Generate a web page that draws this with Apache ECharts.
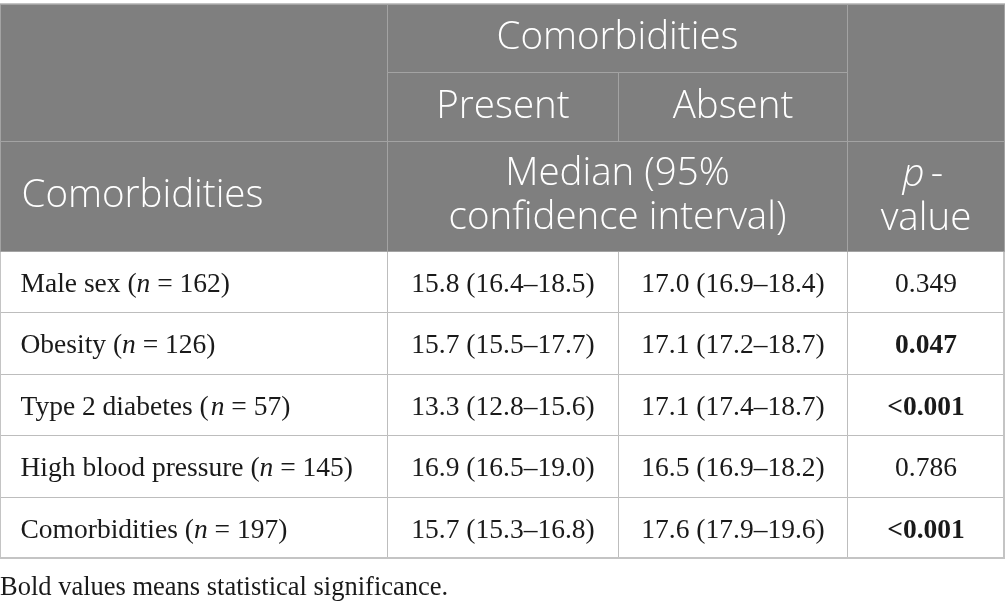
<!DOCTYPE html>
<html>
<head>
<meta charset="utf-8">
<script src="https://cdn.jsdelivr.net/npm/echarts@6/dist/echarts.min.js"></script>
<style>
  html, body { margin: 0; padding: 0; background: #fff; }
  #main { width: 1005px; height: 610px; }
</style>
</head>
<body>
<div id="main"></div>
<script>
// table values
var rowNames = ['Male sex', 'Obesity', 'Type 2 diabetes', 'High blood pressure', 'Comorbidities'];
var rowN = [162, 126, 57, 145, 197];
var presentMedian = [15.8, 15.7, 13.3, 16.9, 15.7];
var presentLow = [16.4, 15.5, 12.8, 16.5, 15.3];
var presentHigh = [18.5, 17.7, 15.6, 19.0, 16.8];
var absentMedian = [17.0, 17.1, 17.1, 16.5, 17.6];
var absentLow = [16.9, 17.2, 17.4, 16.9, 17.9];
var absentHigh = [18.4, 18.7, 18.7, 18.2, 19.6];
var pValues = ['0.349', '0.047', '<0.001', '0.786', '<0.001'];
var significant = [false, true, true, false, true];

var chart = echarts.init(document.getElementById('main'));

var headStyle = { color: '#7f7f7f', borderColor: '#a3a3a3', borderWidth: 1 };
var headLabel = {
    color: '#fff', fontFamily: 'Open Sans', fontWeight: 300, fontSize: 38.5, lineHeight: 44,
    align: 'center', verticalAlign: 'middle', padding: 0
};
var serif = { fontFamily: 'Liberation Serif', fontSize: 27.5, color: '#1a1a1a' };
// rich text so the top padding nudges rows down to match the reference
var bodyLabel = {
    color: '#1a1a1a', fontFamily: 'Liberation Serif', fontSize: 27.5,
    align: 'center', verticalAlign: 'middle', padding: [19, 0, 0, 0],
    rich: {
        t: serif,
        b: Object.assign({}, serif, { fontWeight: 'bold' }),
        i: Object.assign({}, serif, { fontStyle: 'italic' })
    }
};

function ci(m, lo, hi) {
    return '{t|' + m.toFixed(1) + ' (' + lo.toFixed(1) + '\u2013' + hi.toFixed(1) + ')}';
}

var cells = [
    { coord: [0, [0, 1]], mergeCells: true, value: '', itemStyle: headStyle },
    { coord: [[1, 2], 0], mergeCells: true, value: 'Comorbidities', itemStyle: headStyle, label: headLabel },
    { coord: [3, [0, 1]], mergeCells: true, value: '', itemStyle: headStyle },
    { coord: [1, 1], value: 'Present', itemStyle: headStyle, label: headLabel },
    { coord: [2, 1], value: 'Absent', itemStyle: headStyle, label: headLabel },
    { coord: [0, 2], value: 'Comorbidities', itemStyle: headStyle,
      label: Object.assign({}, headLabel, { position: 'insideLeft', distance: 21, align: 'left' }) },
    { coord: [[1, 2], 2], mergeCells: true, value: 'Median (95%\nconfidence interval)', itemStyle: headStyle, label: headLabel },
    { coord: [3, 2], value: '{i|p}-\nvalue', itemStyle: headStyle,
      label: Object.assign({}, headLabel, {
          padding: [12, 0, 0, 0],
          rich: { i: { fontStyle: 'italic', color: '#fff', fontFamily: 'Open Sans', fontWeight: 300, fontSize: 38.5, lineHeight: 44 } }
      }) }
];

rowNames.forEach(function (name, i) {
    var r = i + 3;
    cells.push({
        coord: [0, r],
        value: name + ' ({i|n} = ' + rowN[i] + ')',
        label: Object.assign({}, bodyLabel, {
            position: 'insideLeft', distance: 20, align: 'left',
            rich: { i: Object.assign({}, serif, { fontStyle: 'italic' }) }
        })
    });
    cells.push({ coord: [1, r], value: ci(presentMedian[i], presentLow[i], presentHigh[i]), label: bodyLabel });
    cells.push({ coord: [2, r], value: ci(absentMedian[i], absentLow[i], absentHigh[i]), label: bodyLabel });
    cells.push({
        coord: [3, r],
        value: '{' + (significant[i] ? 'b' : 't') + '|' + pValues[i] + '}',
        label: bodyLabel
    });
});

chart.setOption({
    animation: false,
    title: {
        text: 'Bold values means statistical significance.',
        left: 0,
        top: 575,
        padding: 0,
        textStyle: { fontFamily: 'Liberation Serif', fontSize: 26.5, fontWeight: 'normal', color: '#1a1a1a' }
    },
    matrix: {
        left: 0,
        top: 4,
        width: 1004,
        height: 554,
        x: {
            show: false,
            data: [
                { value: 'c0', size: 387 },
                { value: 'c1', size: 231 },
                { value: 'c2', size: 229 },
                { value: 'c3', size: 157 }
            ]
        },
        y: {
            show: false,
            data: [
                { value: 'h0', size: 68 },
                { value: 'h1', size: 69 },
                { value: 'h2', size: 110 },
                { value: 'r0', size: 61 },
                { value: 'r1', size: 62 },
                { value: 'r2', size: 61 },
                { value: 'r3', size: 62 },
                { value: 'r4', size: 61 }
            ]
        },
        body: {
            itemStyle: { color: '#fff', borderColor: '#bdbdbd', borderWidth: 1 },
            label: { color: '#1a1a1a', fontFamily: 'Liberation Serif', fontSize: 27.5 },
            data: cells
        },
        backgroundStyle: { borderColor: '#c4c4c4', borderWidth: 2 }
    }
});
</script>
</body>
</html>
